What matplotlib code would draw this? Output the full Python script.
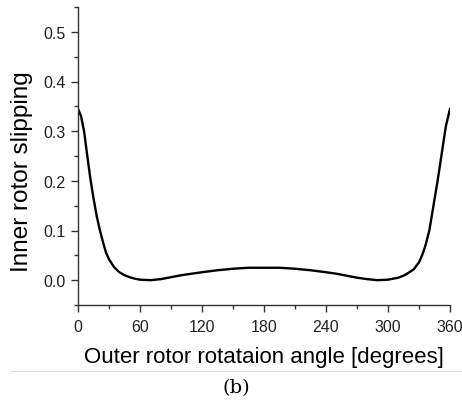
import matplotlib
matplotlib.use("Agg")
import matplotlib.pyplot as plt
from matplotlib.lines import Line2D
from matplotlib.ticker import MultipleLocator

# outer rotor angle [deg] and inner rotor slipping
angle = [0, 3, 6, 9, 12, 15, 18, 21, 24, 27, 30, 35, 40, 45, 50, 55, 60, 70,
         80, 90, 100, 110, 120, 135, 150, 165, 180, 195, 210, 225, 240, 250,
         260, 270, 280, 290, 300, 305, 310, 315, 320, 325, 330, 333, 336, 340,
         344, 348, 352, 356, 360]
slipping = [0.345, 0.33, 0.298, 0.25, 0.204, 0.165, 0.13, 0.102, 0.078, 0.056,
            0.042, 0.026, 0.016, 0.010, 0.006, 0.003, 0.001, 0.0,
            0.002, 0.006, 0.010, 0.013, 0.016, 0.020, 0.023, 0.025, 0.025,
            0.025, 0.023, 0.020, 0.016, 0.013,
            0.009, 0.005, 0.002, 0.0, 0.001, 0.003, 0.005, 0.009, 0.015, 0.022,
            0.036, 0.05, 0.068, 0.10, 0.15, 0.20, 0.255, 0.31, 0.345]

x_ticks = [0, 60, 120, 180, 240, 300, 360]
y_ticks = [0.0, 0.1, 0.2, 0.3, 0.4, 0.5]

plt.rcParams['font.family'] = ['Liberation Sans', 'DejaVu Sans']

fig = plt.figure(figsize=(4.62, 4.02), dpi=100)
ax = fig.add_axes([78 / 462, 96 / 402, 372 / 462, 298 / 402])

ax.plot(angle, slipping, color='black', lw=1.7)

ax.set_xlim(0, 360)
ax.set_ylim(-0.05, 0.55)
ax.set_xticks(x_ticks)
ax.set_yticks(y_ticks)
ax.set_yticklabels([f"{v:.1f}" for v in y_ticks])
ax.xaxis.set_minor_locator(MultipleLocator(30))
ax.yaxis.set_minor_locator(MultipleLocator(0.05))

for s in ['top', 'right']:
    ax.spines[s].set_visible(False)
for s in ['left', 'bottom']:
    ax.spines[s].set_color('#333333')
    ax.spines[s].set_linewidth(1.0)

ax.tick_params(which='major', direction='out', length=5, width=1, colors='#333333',
               labelsize=11.5, labelcolor='#222222')
ax.tick_params(which='minor', direction='out', length=3, width=1, colors='#333333')
ax.tick_params(axis='x', pad=5)
ax.tick_params(axis='y', pad=4)

ax.set_xlabel("Outer rotor rotataion angle [degrees]", fontsize=16, labelpad=9)
ax.set_ylabel("Inner rotor slipping", fontsize=17.5)
ax.yaxis.set_label_coords(-0.12, 0.45)

# thin rule under the chart and caption
fig.add_artist(Line2D([11 / 462, 1.0], [1 - 372 / 402, 1 - 372 / 402],
                      color='#dddddd', lw=0.8))
fig.text(236 / 462, 1 - 388 / 402, "(b)", ha='center', va='center', fontsize=14,
         family='DejaVu Serif')

fig.savefig("out.png", dpi=100)
